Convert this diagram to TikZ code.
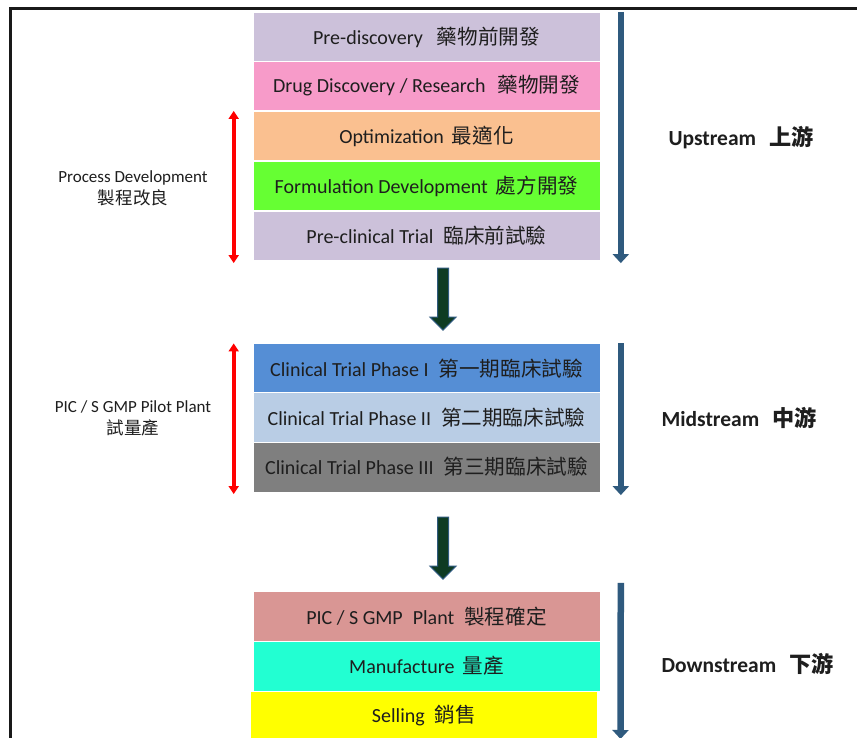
\documentclass[tikz,border=0pt]{standalone}
\usepackage{fontspec}
\setmainfont{Carlito}
\newfontfamily\cjk[Scale=1.03]{Noto Sans CJK TC}
\usetikzlibrary{arrows.meta,calc}
\definecolor{cLav}{HTML}{CCC1DA}
\definecolor{cPink}{HTML}{F79BC9}
\definecolor{cPeach}{HTML}{FAC090}
\definecolor{cGreen}{HTML}{66FF33}
\definecolor{cBlue}{HTML}{558ED5}
\definecolor{cLblue}{HTML}{B9CDE5}
\definecolor{cGray}{HTML}{7F7F7F}
\definecolor{cRose}{HTML}{D99694}
\definecolor{cTurq}{HTML}{22FFD2}
\definecolor{cYel}{HTML}{FFFF00}
\definecolor{blu}{HTML}{2F5A7E}
\definecolor{dgreen}{HTML}{0E3B22}
\definecolor{txt}{HTML}{1E1E1E}
\newcommand\zh[1]{{\cjk #1}}
% block arrow pointing down, top centre at #1
\newcommand\blockarrow[1]{%
  \filldraw[blk] (#1) ++(-5.5,0) -- ++(0,49) -- ++(-7.5,0) -- ++(13,13)
    -- ++(13,-13) -- ++(-7.5,0) -- ++(0,-49) -- cycle;}
\begin{document}
\begin{tikzpicture}[x=1pt,y=-1pt,
  stage/.style={rectangle, minimum width=347pt, minimum height=49.6pt, inner sep=0pt,
    draw=white, line width=0.6pt, font=\fontsize{20}{22}\selectfont, text=txt},
  side/.style={align=center, font=\fontsize{17}{22}\selectfont, text=txt},
  phase/.style={anchor=west, font=\bfseries\fontsize{21.5}{24}\selectfont, text=txt},
  flow/.style={draw=blu, line width=6.5pt, -{Triangle[width=16pt,length=9pt]}},
  span/.style={draw=red, line width=4pt,
    {Triangle[width=10pt,length=8pt]}-{Triangle[width=10pt,length=8pt]}},
  blk/.style={draw=blu, line width=1pt, fill=dgreen, line join=miter}
]
\useasboundingbox (0,0) rectangle (857,738);
\fill[white] (0,0) rectangle (857,738);
% frame
\draw[line width=3pt, black!90, line join=miter] (880,9) -- (10.3,9) -- (10.3,760);

% upstream stages
\node[stage, fill=cLav]   (pd) at (426.5,37)  {Pre-discovery\hspace{0.7em}\zh{藥物前開發}};
\node[stage, fill=cPink]  (dd) at (426.5,86)  {Drug Discovery / Research\hspace{0.6em}\zh{藥物開發}};
\node[stage, fill=cPeach] (op) at (426.5,136) {Optimization\hspace{0.4em}\zh{最適化}};
\node[stage, fill=cGreen] (fd) at (426.5,186) {Formulation Development\hspace{0.4em}\zh{處方開發}};
\node[stage, fill=cLav]   (pc) at (426.5,236) {Pre-clinical Trial\hspace{0.5em}\zh{臨床前試驗}};

% midstream stages
\node[stage, fill=cBlue]  (p1) at (426.5,368.5) {Clinical Trial Phase I\hspace{0.5em}\zh{第一期臨床試驗}};
\node[stage, fill=cLblue] (p2) at (426.5,417.5) {Clinical Trial Phase II\hspace{0.5em}\zh{第二期臨床試驗}};
\node[stage, fill=cGray]  (p3) at (426.5,467)   {Clinical Trial Phase III\hspace{0.5em}\zh{第三期臨床試驗}};

% downstream stages
\node[stage, fill=cRose]  (gp) at (426.5,616.5) {PIC / S GMP\hspace{0.5em}Plant\hspace{0.5em}\zh{製程確定}};
\node[stage, fill=cTurq]  (mf) at (426.5,666)   {Manufacture\hspace{0.4em}\zh{量產}};
\node[stage, fill=cYel]   (sl) at (424,716)     {Selling\hspace{0.5em}\zh{銷售}};

% block arrows between groups
\coordinate (b1) at ($(pc.south)+(16.5,7)$);
\coordinate (b2) at ($(p3.south)+(16.5,25)$);
\blockarrow{b1}
\blockarrow{b2}

% phase arrows (right)
\draw[flow] ($(pd.north east)+(20.5,0)$) -- ($(pc.south east)+(20.5,2)$);
\draw[flow] ($(p1.north east)+(20.5,0)$) -- ($(p3.south east)+(20.5,3)$);
\coordinate (dend) at (620.5,739);
\draw[flow] ($(gp.north east)+(20.5,-8.5)$) -- (dend);

% phase labels
\node[phase] (up)  at (665,138) {Upstream\hspace{0.6em}{\cjk 上游}};
\node[phase] (mid) at (658,418) {Midstream\hspace{0.6em}{\cjk 中游}};
\node[phase] (dn)  at (658,664) {Downstream\hspace{0.6em}{\cjk 下游}};

% red spans (left)
\draw[span] ($(op.north west)+(-19,0)$) -- ($(pc.south west)+(-19,2)$);
\draw[span] ($(p1.north west)+(-19,0)$) -- ($(p3.south west)+(-19,2)$);

% side labels
\node[side] (pdl) at (133,188) {Process Development\\\zh{製程改良}};
\node[side] (ppl) at (133,418) {PIC / S GMP Pilot Plant\\\zh{試量產}};
\end{tikzpicture}
\end{document}
